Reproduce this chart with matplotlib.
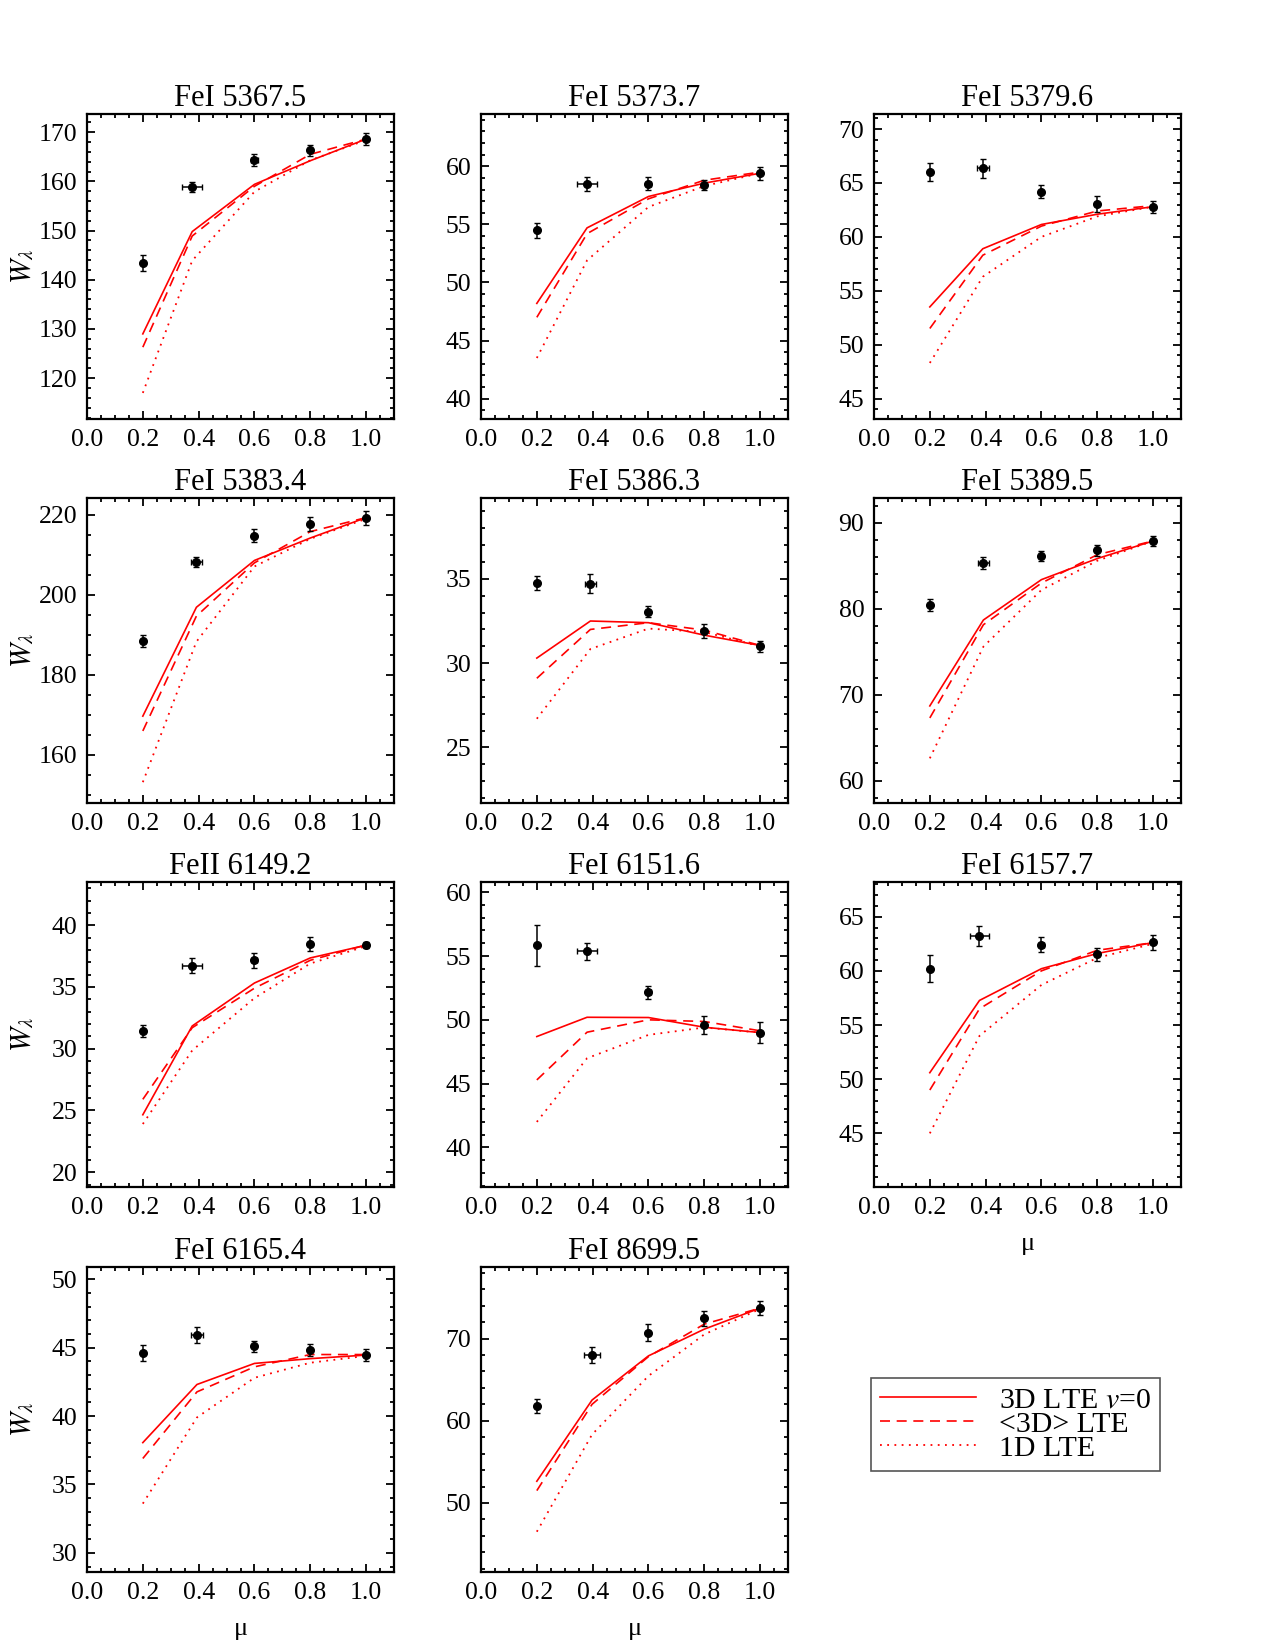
import matplotlib
matplotlib.use("Agg")
import matplotlib.pyplot as plt
from matplotlib.ticker import MultipleLocator
from matplotlib.lines import Line2D

plt.rcParams['font.family'] = ['Liberation Serif', 'DejaVu Serif']
plt.rcParams['mathtext.fontset'] = 'stix'

titles = ["FeI 5367.5", "FeI 5373.7", "FeI 5379.6", "FeI 5383.4", "FeI 5386.3",
          "FeI 5389.5", "FeII 6149.2", "FeI 6151.6", "FeI 6157.7", "FeI 6165.4",
          "FeI 8699.5"]

# mu of the second disk position (others are 0.2, 0.6, 0.8, 1.0)
mu2 = [0.377, 0.38, 0.39, 0.392, 0.392, 0.392, 0.377, 0.38, 0.378, 0.394, 0.398]
mu2_err = [0.035, 0.036, 0.022, 0.02, 0.02, 0.02, 0.035, 0.035, 0.035, 0.02, 0.03]
mu3_err = [0.013, 0.01, 0.0, 0.0, 0.0, 0.0, 0.01, 0.01, 0.01, 0.0, 0.0]

obs = [
    [143.4, 158.8, 164.4, 166.3, 168.6],
    [54.5, 58.5, 58.5, 58.4, 59.4],
    [66.0, 66.35, 64.2, 63.05, 62.8],
    [188.4, 208.2, 214.8, 217.7, 219.2],
    [34.74, 34.72, 33.06, 31.9, 30.99],
    [80.4, 85.34, 86.15, 86.8, 87.9],
    [31.43, 36.73, 37.16, 38.46, 38.38],
    [55.84, 55.37, 52.17, 49.6, 49.0],
    [60.21, 63.21, 62.43, 61.54, 62.62],
    [44.6, 45.92, 45.12, 44.82, 44.46],
    [61.79, 68.0, 70.73, 72.44, 73.7],
]
obs_err = [
    [1.6, 1.0, 1.2, 1.1, 1.2],
    [0.65, 0.6, 0.55, 0.45, 0.55],
    [0.85, 0.9, 0.6, 0.75, 0.55],
    [1.5, 1.3, 1.6, 1.8, 1.8],
    [0.42, 0.55, 0.35, 0.4, 0.35],
    [0.7, 0.75, 0.6, 0.6, 0.55],
    [0.5, 0.6, 0.6, 0.55, 0.25],
    [1.6, 0.65, 0.5, 0.7, 0.8],
    [1.25, 0.9, 0.65, 0.6, 0.7],
    [0.6, 0.6, 0.4, 0.45, 0.45],
    [0.8, 1.0, 1.0, 0.9, 0.85],
]
w_3d = [
    [129.0, 149.8, 159.4, 164.2, 168.6],
    [48.2, 54.7, 57.4, 58.55, 59.4],
    [53.5, 58.9, 61.15, 62.1, 62.8],
    [169.7, 196.9, 208.6, 214.2, 219.3],
    [30.3, 32.5, 32.4, 31.66, 31.05],
    [68.7, 78.7, 83.4, 85.85, 87.9],
    [24.65, 31.84, 35.32, 37.35, 38.38],
    [48.69, 50.2, 50.18, 49.42, 49.0],
    [50.6, 57.27, 60.2, 61.6, 62.62],
    [38.06, 42.31, 43.85, 44.2, 44.46],
    [52.64, 62.52, 67.89, 71.14, 73.7],
]
w_3dav = [
    [126.3, 148.9, 159.0, 165.5, 168.6],
    [47.0, 54.2, 57.2, 58.8, 59.5],
    [51.5, 58.3, 61.0, 62.4, 62.9],
    [166.0, 194.7, 208.0, 215.8, 219.3],
    [29.1, 32.0, 32.4, 31.96, 31.05],
    [67.3, 78.15, 83.0, 86.3, 87.9],
    [25.9, 31.7, 34.9, 37.16, 38.4],
    [45.29, 49.03, 50.0, 49.87, 49.14],
    [49.0, 56.5, 60.0, 61.9, 62.6],
    [36.9, 41.77, 43.6, 44.5, 44.5],
    [51.5, 62.0, 67.8, 71.75, 73.7],
]
w_1d = [
    [117.0, 143.9, 157.9, 164.3, 168.4],
    [43.5, 51.9, 56.5, 58.3, 59.4],
    [48.3, 56.3, 60.0, 61.9, 62.8],
    [153.2, 188.3, 207.1, 214.0, 219.0],
    [26.7, 30.84, 32.05, 31.85, 31.0],
    [62.6, 75.6, 82.2, 85.6, 87.9],
    [23.9, 29.86, 34.1, 36.9, 38.3],
    [42.0, 46.99, 48.82, 49.4, 49.0],
    [45.0, 54.0, 58.7, 61.2, 62.5],
    [33.6, 39.9, 42.8, 43.9, 44.4],
    [46.5, 58.33, 65.45, 70.5, 73.6],
]
ylims = [(111.7, 173.7), (38.25, 64.5), (43.1, 71.4), (148.0, 224.2), (21.7, 39.8),
         (57.4, 92.9), (18.8, 43.5), (36.9, 60.8), (40.05, 68.2), (28.6, 50.9),
         (41.6, 78.7)]
ymajor = [10, 5, 5, 20, 5, 10, 5, 5, 5, 5, 10]
yminor = [2, 1, 1, 5, 1, 2, 1, 1, 1, 1, 2]
xticks = [0.0, 0.2, 0.4, 0.6, 0.8, 1.0]
legend_labels = ["3D LTE $v$=0", "<3D> LTE", "1D LTE"]

W, H = 1275, 1650
fig = plt.figure(figsize=(12.75, 16.5), dpi=100)

col_left = [87, 481, 874]
row_top = [114, 498, 882, 1267]
aw, ah = 307, 305

red = '#ff0000'
dash_style = (0, (6, 4))
dot_style = (0, (1, 3))

for i in range(11):
    r, c = divmod(i, 3)
    ax = fig.add_axes([col_left[c] / W, 1 - (row_top[r] + ah) / H, aw / W, ah / H])
    mu = [0.2, mu2[i], 0.6, 0.8, 1.0]
    xe = [0.0, mu2_err[i], mu3_err[i], 0.0, 0.0]
    ax.plot(mu, w_3d[i], color=red, lw=1.2, ls='-')
    ax.plot(mu, w_3dav[i], color=red, lw=1.2, ls=dash_style)
    ax.plot(mu, w_1d[i], color=red, lw=1.3, ls=dot_style)
    ax.errorbar(mu, obs[i], yerr=obs_err[i], xerr=xe, fmt='o', color='black',
                ms=5.5, elinewidth=1.1, capsize=2, capthick=1.0, zorder=5)
    ax.set_xlim(0.0, 1.1)
    ax.set_ylim(*ylims[i])
    ax.set_xticks(xticks)
    ax.set_xticklabels([f"{v:.1f}" for v in xticks])
    ax.xaxis.set_minor_locator(MultipleLocator(0.05))
    ax.yaxis.set_major_locator(MultipleLocator(ymajor[i]))
    ax.yaxis.set_minor_locator(MultipleLocator(yminor[i]))
    ax.tick_params(which='both', direction='in', top=True, right=True,
                   labelsize=18.5, width=1.3)
    ax.tick_params(which='major', length=6, pad=7)
    ax.tick_params(which='minor', length=3)
    for s in ax.spines.values():
        s.set_linewidth(1.6)
    ax.set_title(titles[i], fontsize=22, pad=6)
    if c == 0:
        ax.set_ylabel(r"$W_\lambda$", fontsize=21)
        ax.yaxis.set_label_coords(-0.165, 0.5)
    if i >= 8:
        ax.set_xlabel("μ", fontsize=19)
        ax.xaxis.set_label_coords(0.5, -0.15)

handles = [Line2D([], [], color=red, lw=1.2, ls='-'),
           Line2D([], [], color=red, lw=1.2, ls=dash_style),
           Line2D([], [], color=red, lw=1.3, ls=dot_style)]
leg = fig.legend(handles, legend_labels, loc='upper left',
                 bbox_to_anchor=(871 / W, 1 - 1378 / H), fontsize=21.5,
                 handlelength=3.2, handletextpad=0.8, labelspacing=-0.1,
                 borderpad=0.3, fancybox=False, framealpha=1, borderaxespad=0)
leg.get_frame().set_edgecolor('#555555')
leg.get_frame().set_linewidth(1.2)

fig.savefig("out.png", dpi=100)
